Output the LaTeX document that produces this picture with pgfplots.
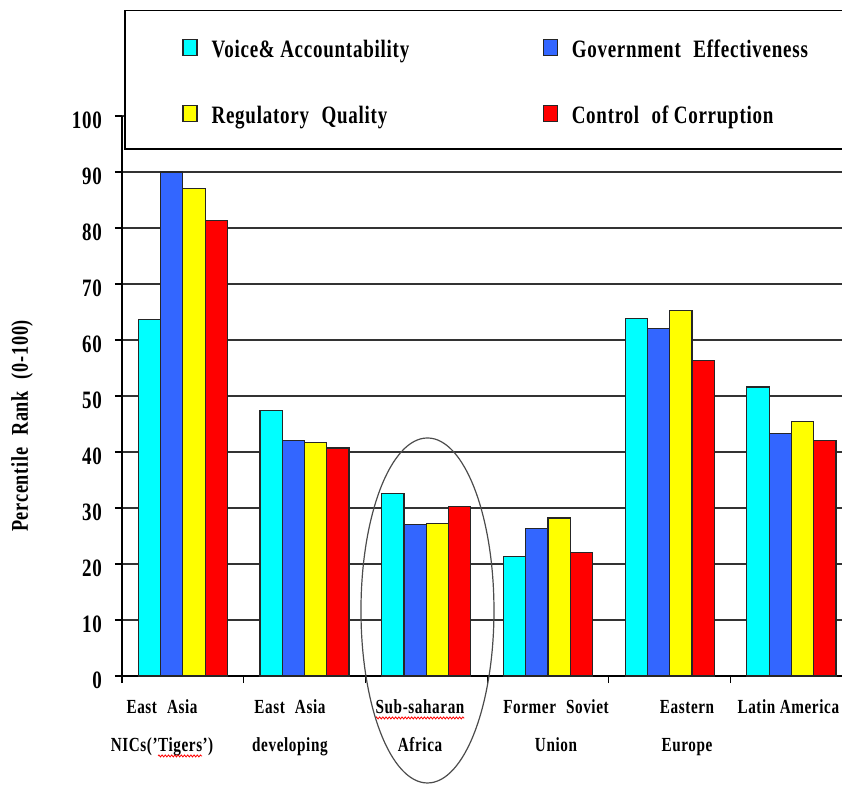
\documentclass[border=0pt]{standalone}
\usepackage{fontspec}
\setmainfont{Liberation Serif}[FakeStretch=0.76,LetterSpace=3]
\usepackage{pgfplots}
\pgfplotsset{compat=1.18}
\usetikzlibrary{decorations.pathmorphing}

\definecolor{vacyan}{HTML}{00FFFF}
\definecolor{geblue}{HTML}{3366FF}
\definecolor{rqyellow}{HTML}{FFFF00}
\definecolor{ccred}{HTML}{FF0000}
\definecolor{edge}{HTML}{262626}

% red spell-check squiggle under some labels
\newcommand\redwave[1]{\tikz[baseline=(t.base)]{%
  \node[inner sep=0pt, outer sep=0pt, anchor=base, rotate=0, align=left] (t) {#1};
  \draw[ccred, line width=0.4bp, decorate, decoration={zigzag, amplitude=0.5bp, segment length=1.6bp}]
    ([yshift=-2bp]t.base west) -- ([yshift=-2bp]t.base east);}}

% percentile ranks, one row per region
\pgfplotstableread{
x     va    ge    rq    cc
0     63.6  90.0  87.0  81.3
1     47.4  42.0  41.7  40.7
2     32.6  27.1  27.3  30.2
3     21.4  26.4  28.2  22.1
4     63.8  62.0  65.2  56.3
5     51.6  43.3  45.4  42.0
}\govdata

\begin{document}
\begin{tikzpicture}
\path[use as bounding box] (0,0) rectangle (421bp,393bp);
\begin{axis}[
    at={(61bp,55bp)}, anchor=south west,
    scale only axis, width=360bp, height=280bp,
    xmin=-0.5, xmax=5.416, ymin=0, ymax=100,
    axis lines*=left,
    axis line style={black, line width=0.6bp},
    ybar=0pt, bar width=0.183,
    ytick={0,10,...,100},
    ymajorgrids, grid style={black!80, line width=0.6bp},
    tick align=outside,
    major tick length=3.5bp, minor tick length=3.5bp,
    tick style={black, line width=0.6bp},
    xtick={-0.171,0.880,1.949,3.066,4.143,4.975},
    xticklabels={{East\enspace Asia\\NICs('\redwave{Tigers}')},
                 {East\enspace Asia\\developing},
                 {\redwave{Sub-saharan}\\Africa},
                 {Former\enspace Soviet\\Union},
                 {Eastern\\Europe},
                 {Latin America\\\strut}},
    major x tick style={draw=none},
    minor xtick={-0.5,0.5,1.5,2.5,3.5,4.5},
    xticklabel style={font=\fontsize{10bp}{19bp}\selectfont\bfseries, align=center, anchor=north, yshift=-5bp},
    yticklabel style={font=\fontsize{12.5bp}{14bp}\selectfont\bfseries, xshift=-3bp, yshift=-2bp},
    /pgf/number format/assume math mode=true,
    clip=false,
    legend style={at={(0.0833,1.139)}, anchor=north west, draw=none, fill=none,
        inner sep=0pt, column sep=7bp, row sep=21bp,
        font=\fontsize{12.5bp}{14bp}\selectfont\bfseries,
        cells={anchor=west},
        nodes={inner sep=0pt, text height=9bp, text depth=3bp}},
    legend columns=2,
    legend image code/.code={\draw[#1] (0bp,-2bp) rectangle (7bp,6bp);},
]
\draw[black, line width=0.6bp, fill=white] (rel axis cs:0.00417,0.941) rectangle (rel axis cs:1.05,1.189);
\addplot[fill=vacyan, draw=edge, line width=0.6bp] table[x=x, y=va] {\govdata};
\addplot[fill=geblue, draw=edge, line width=0.6bp] table[x=x, y=ge] {\govdata};
\addplot[fill=rqyellow, draw=edge, line width=0.6bp] table[x=x, y=rq] {\govdata};
\addplot[fill=ccred, draw=edge, line width=0.6bp] table[x=x, y=cc] {\govdata};
\addlegendentry{\makebox[158.5bp][l]{Voice\& Accountability}}
\addlegendentry{Government\enspace Effectiveness}
\addlegendentry{\makebox[158.5bp][l]{Regulatory\enspace Quality}}
\addlegendentry{Control\enspace of Corruption}
\draw[black!70, line width=0.6bp] (axis cs:2.01,11.7) ellipse [x radius=33.25bp, y radius=86.25bp];
\end{axis}
\node[rotate=90, font=\fontsize{12bp}{14bp}\selectfont\bfseries] at (11bp,180bp) {Percentile\enspace Rank\enspace (0-100)};
\end{tikzpicture}
\end{document}
